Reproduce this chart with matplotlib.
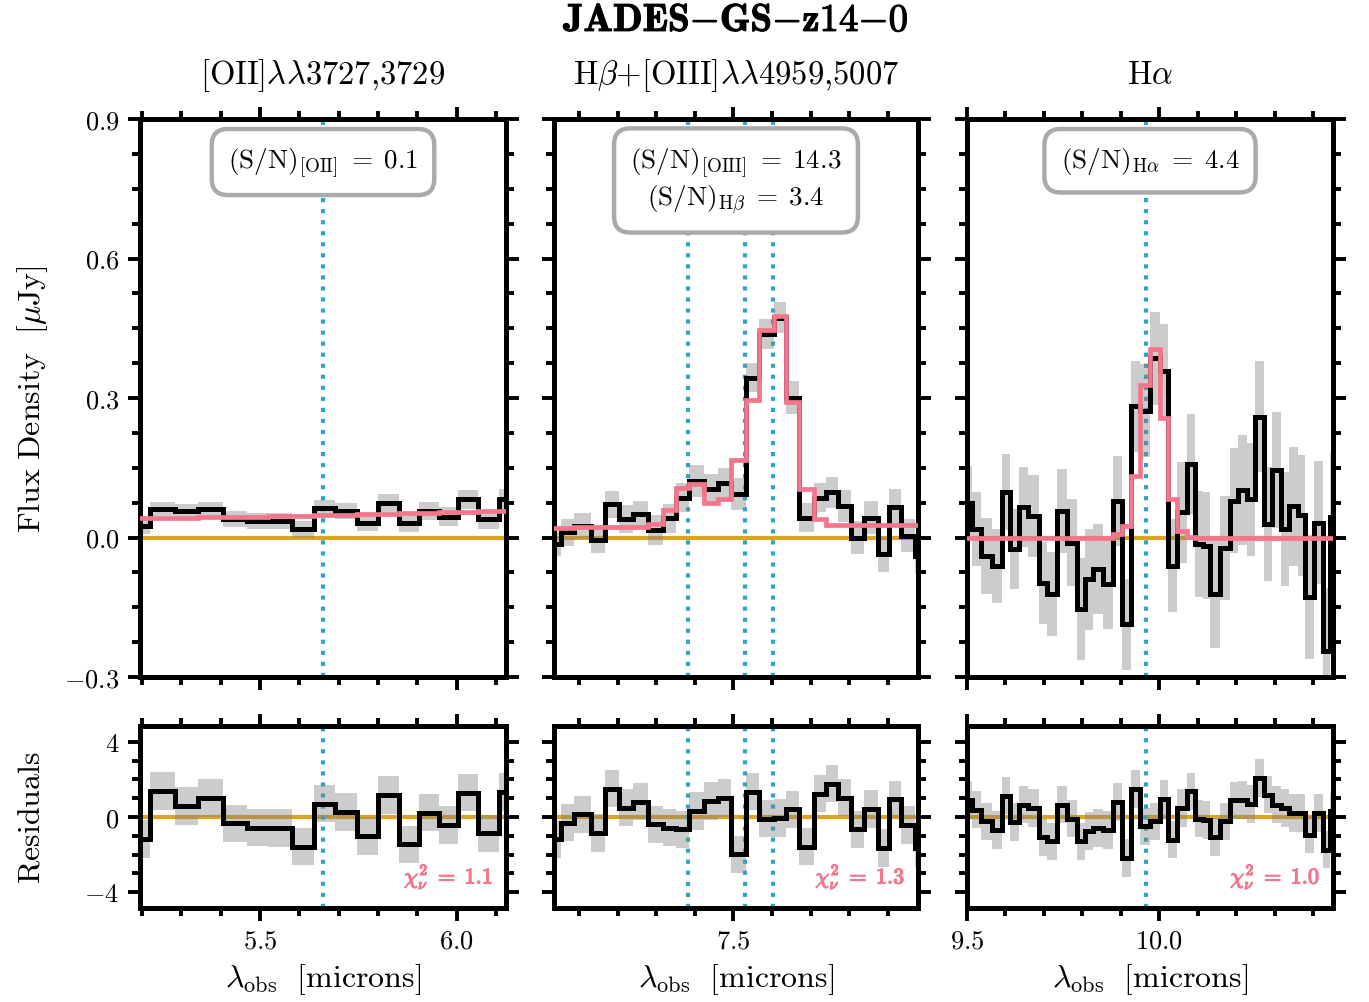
import numpy as np
import matplotlib
matplotlib.use('Agg')
import matplotlib.pyplot as plt
import matplotlib.patheffects as pe
from matplotlib.ticker import AutoMinorLocator, MultipleLocator

plt.rcParams.update({
    'mathtext.fontset': 'cm',
    'font.family': 'serif',
    'font.serif': ['cmr10'],
    'axes.unicode_minus': False,
    'axes.formatter.use_mathtext': True,
})

# ---- [OII] window ----
edges_oii = [5.156, 5.220, 5.284, 5.343, 5.407, 5.466, 5.521, 5.581, 5.636, 5.691,
             5.746, 5.801, 5.852, 5.903, 5.954, 6.004, 6.055, 6.106, 6.157]
flux_oii = [0.025, 0.061, 0.056, 0.061, 0.039, 0.036, 0.036, 0.018, 0.063, 0.057,
            0.032, 0.074, 0.032, 0.057, 0.045, 0.082, 0.039, 0.082]
err_oii = [0.018, 0.015, 0.017, 0.016, 0.017, 0.017, 0.017, 0.018, 0.018, 0.018,
           0.019, 0.019, 0.020, 0.020, 0.020, 0.021, 0.021, 0.022]
model_oii = [0.041, 0.042, 0.043, 0.044, 0.045, 0.045, 0.046, 0.047, 0.048, 0.049,
             0.050, 0.051, 0.052, 0.053, 0.054, 0.055, 0.056, 0.057]
resid_oii = [-1.16, 1.39, 0.59, 1.00, -0.34, -0.57, -0.60, -1.58, 0.71, 0.28,
             -1.01, 1.16, -1.46, 0.23, -0.44, 1.30, -0.87, 1.33]
lines_oii = [5.660]

# ---- Hbeta + [OIII] window ----
edges_oiii = [7.016, 7.051, 7.086, 7.129, 7.166, 7.203, 7.238, 7.277, 7.316, 7.350,
              7.385, 7.424, 7.459, 7.493, 7.532, 7.567, 7.606, 7.636, 7.671, 7.710,
              7.740, 7.771, 7.805, 7.840, 7.875, 7.905, 7.935, 7.970, 8.005]
flux_oiii = [-0.014, 0.011, 0.024, -0.005, 0.072, 0.039, 0.050, 0.016, 0.041, 0.086,
             0.122, 0.104, 0.118, 0.093, 0.344, 0.437, 0.473, 0.301, 0.043, 0.086,
             0.097, 0.068, 0.000, 0.043, -0.036, 0.065, 0.004, -0.039]
err_oiii = [0.025, 0.029, 0.028, 0.029, 0.029, 0.030, 0.029, 0.032, 0.032, 0.031,
            0.034, 0.032, 0.032, 0.034, 0.032, 0.032, 0.034, 0.036, 0.032, 0.032,
            0.034, 0.034, 0.036, 0.036, 0.038, 0.039, 0.036, 0.039]
model_oiii = [0.021, 0.021, 0.022, 0.022, 0.022, 0.023, 0.023, 0.029, 0.059, 0.106,
              0.115, 0.075, 0.082, 0.167, 0.295, 0.447, 0.477, 0.292, 0.105, 0.039,
              0.027, 0.027, 0.027, 0.027, 0.027, 0.027, 0.027, 0.027]
resid_oiii = [-1.19, -0.30, 0.14, -0.84, 1.51, 0.50, 0.82, -0.39, -0.57, -0.66,
              0.32, 0.85, 1.00, -1.99, 1.35, -0.09, -0.04, 0.41, -1.58, 1.24,
              1.78, 1.03, -0.66, 0.44, -1.64, 0.94, -0.44, -1.64]
lines_oiii = [7.381, 7.530, 7.603]

# ---- Halpha window ----
edges_ha = [9.488, 9.514, 9.537, 9.564, 9.590, 9.613, 9.636, 9.659, 9.687, 9.709,
            9.735, 9.759, 9.785, 9.807, 9.828, 9.855, 9.879, 9.902, 9.926, 9.950,
            9.976, 10.002, 10.024, 10.046, 10.072, 10.093, 10.113, 10.133, 10.159, 10.183,
            10.206, 10.228, 10.250, 10.273, 10.293, 10.317, 10.337, 10.360, 10.380, 10.402,
            10.426, 10.445, 10.470]
flux_ha = [0.074, 0.018, -0.040, -0.061, 0.098, -0.025, 0.065, 0.047, -0.097, -0.122,
           0.057, -0.011, -0.154, -0.090, -0.068, -0.100, 0.079, -0.187, 0.282, 0.273,
           0.385, 0.358, -0.061, 0.054, 0.158, -0.014, -0.018, -0.122, -0.022, 0.079,
           0.102, 0.082, 0.260, 0.029, 0.145, 0.018, 0.067, 0.048, -0.128, 0.032,
           -0.244, 0.045]
err_ha = [0.080, 0.080, 0.082, 0.080, 0.082, 0.086, 0.086, 0.088, 0.088, 0.090,
          0.090, 0.093, 0.110, 0.108, 0.097, 0.097, 0.097, 0.097, 0.098, 0.100,
          0.100, 0.102, 0.100, 0.108, 0.108, 0.115, 0.115, 0.116, 0.112, 0.113,
          0.118, 0.122, 0.120, 0.122, 0.125, 0.123, 0.128, 0.130, 0.133, 0.133,
          0.136, 0.136]
model_ha = [0.0, 0.0, 0.0, 0.0, 0.0, 0.0, 0.0, 0.0, 0.0, 0.0,
            0.0, 0.0, 0.0, 0.0, 0.0, 0.0, 0.007, 0.025, 0.133, 0.327,
            0.406, 0.258, 0.083, 0.014, 0.002, 0.0, 0.0, 0.0, 0.0, 0.0,
            0.0, 0.0, 0.0, 0.0, 0.0, 0.0, 0.0, 0.0, 0.0, 0.0,
            0.0, 0.0]
resid_ha = [0.92, 0.39, -0.23, -0.68, 1.14, -0.28, 0.66, 0.48, -1.08, -1.30,
            0.66, -0.08, -1.30, -0.76, -0.60, -0.70, 0.80, -2.18, 1.50, -0.50,
            -0.23, 0.96, -1.20, 0.48, 1.37, -0.09, -0.16, -1.07, -0.23, 0.89,
            0.92, 0.70, 2.08, 1.19, 0.66, 0.48, 0.21, 0.20, -0.94, 0.21,
            -1.74, 0.30]
lines_ha = [9.965]

titles = [r'$\rm [OII]\lambda\lambda 3727{,}3729$',
          r'$\rm H\beta{+}[OIII]\lambda\lambda 4959{,}5007$',
          r'$\rm H\alpha$']
sn_labels = [r'$\rm (S/N)_{[OII]}\;=\;0.1$',
             r'$\rm (S/N)_{[OIII]}\;=\;14.3$' + '\n' + r'$\rm (S/N)_{H\beta}\;=\;3.4$',
             r'$\rm (S/N)_{H\alpha}\;=\;4.4$']
chi2_vals = ['1.1', '1.3', '1.0']
xlims = [(5.195, 6.125), (7.034, 7.979), (9.500, 10.452)]

windows = [
    (edges_oii, flux_oii, err_oii, model_oii, resid_oii, lines_oii),
    (edges_oiii, flux_oiii, err_oiii, model_oiii, resid_oiii, lines_oiii),
    (edges_ha, flux_ha, err_ha, model_ha, resid_ha, lines_ha),
]

C_MODEL = '#f4768c'
C_ZERO = '#daa520'
C_LINE = '#2ea5c6'

W, H = 1369, 1003
fig = plt.figure(figsize=(W / 100, H / 100), dpi=100)

lefts = [140, 554, 967]
widths = [366, 364, 366]


def style_axis(ax, xlim, ylim, yticks, label_left, label_bottom):
    ax.set_xlim(*xlim)
    ax.set_ylim(*ylim)
    ax.xaxis.set_major_locator(MultipleLocator(0.5))
    ax.xaxis.set_minor_locator(AutoMinorLocator(5))
    ax.set_yticks(yticks)
    ax.yaxis.set_minor_locator(AutoMinorLocator(4))
    ax.tick_params(which='both', direction='out', top=True, right=True,
                   width=2.8, labelsize=19, pad=6,
                   labelleft=label_left, labelbottom=label_bottom)
    ax.tick_params(which='major', length=9)
    ax.tick_params(which='minor', length=6)
    for sp in ax.spines.values():
        sp.set_linewidth(3.6)


for i, (edges, flux, err, model, resid, lines) in enumerate(windows):
    edges = np.array(edges)
    flux = np.array(flux)
    err = np.array(err)
    resid = np.array(resid)

    # spectrum panel
    ax = fig.add_axes([lefts[i] / W, 1 - 678 / H, widths[i] / W, 558 / H])
    ax.axhline(0, color=C_ZERO, lw=3, zorder=1)
    for lam in lines:
        ax.axvline(lam, color=C_LINE, lw=3, ls=':', zorder=1)
    ax.stairs(flux + err, edges, baseline=flux - err, fill=True,
              color='gray', alpha=0.4, lw=0, zorder=2)
    ax.stairs(flux, edges, baseline=None, color='black', lw=3.6, zorder=3)
    ax.stairs(model, edges, baseline=None, color=C_MODEL, lw=3.4, zorder=4)
    style_axis(ax, xlims[i], (-0.3, 0.9), [-0.3, 0.0, 0.3, 0.6, 0.9], i == 0, False)
    ax.set_title(titles[i], fontsize=23.5, pad=26)
    ax.text(0.5, 0.953, sn_labels[i], transform=ax.transAxes, ha='center', va='top',
            fontsize=19.5, multialignment='center', zorder=6, linespacing=1.2,
            bbox=dict(boxstyle='round,pad=0.6', fc='white', ec='#aaaaaa', lw=3.2))

    # residual panel
    rax = fig.add_axes([lefts[i] / W, 1 - 909 / H, widths[i] / W, 182 / H])
    rax.axhline(0, color=C_ZERO, lw=3, zorder=1)
    for lam in lines:
        rax.axvline(lam, color=C_LINE, lw=3, ls=':', zorder=1)
    rax.stairs(resid + 1.0, edges, baseline=resid - 1.0, fill=True,
               color='gray', alpha=0.4, lw=0, zorder=2)
    rax.stairs(resid, edges, baseline=None, color='black', lw=3.6, zorder=3)
    style_axis(rax, xlims[i], (-4.85, 4.85), [-4, 0, 4], i == 0, True)
    rax.set_xlabel(r'$\lambda_{\rm obs}\ \ [{\rm microns}]$', fontsize=23, labelpad=6)
    rax.text(0.965, 0.09, r'$\chi^2_\nu\;=\;\mathbf{' + chi2_vals[i] + '}$',
             transform=rax.transAxes, ha='right', va='bottom',
             fontsize=16, color=C_MODEL,
             path_effects=[pe.withStroke(linewidth=0.9, foreground=C_MODEL)])

fig.text(40 / W, 1 - 399 / H, r'$\rm Flux\ Density\ \ [\mu Jy]$', fontsize=23,
         rotation=90, rotation_mode='anchor', ha='center', va='baseline')
fig.text(40 / W, 1 - 818 / H, r'$\rm Residuals$', fontsize=23,
         rotation=90, rotation_mode='anchor', ha='center', va='baseline')
fig.text(736 / W, 1 - 22 / H, r'$\mathbf{JADES{-}GS{-}z14{-}0}$', fontsize=28,
         ha='center', va='center',
         path_effects=[pe.withStroke(linewidth=0.8, foreground='black')])

fig.savefig('out.png', dpi=100)
